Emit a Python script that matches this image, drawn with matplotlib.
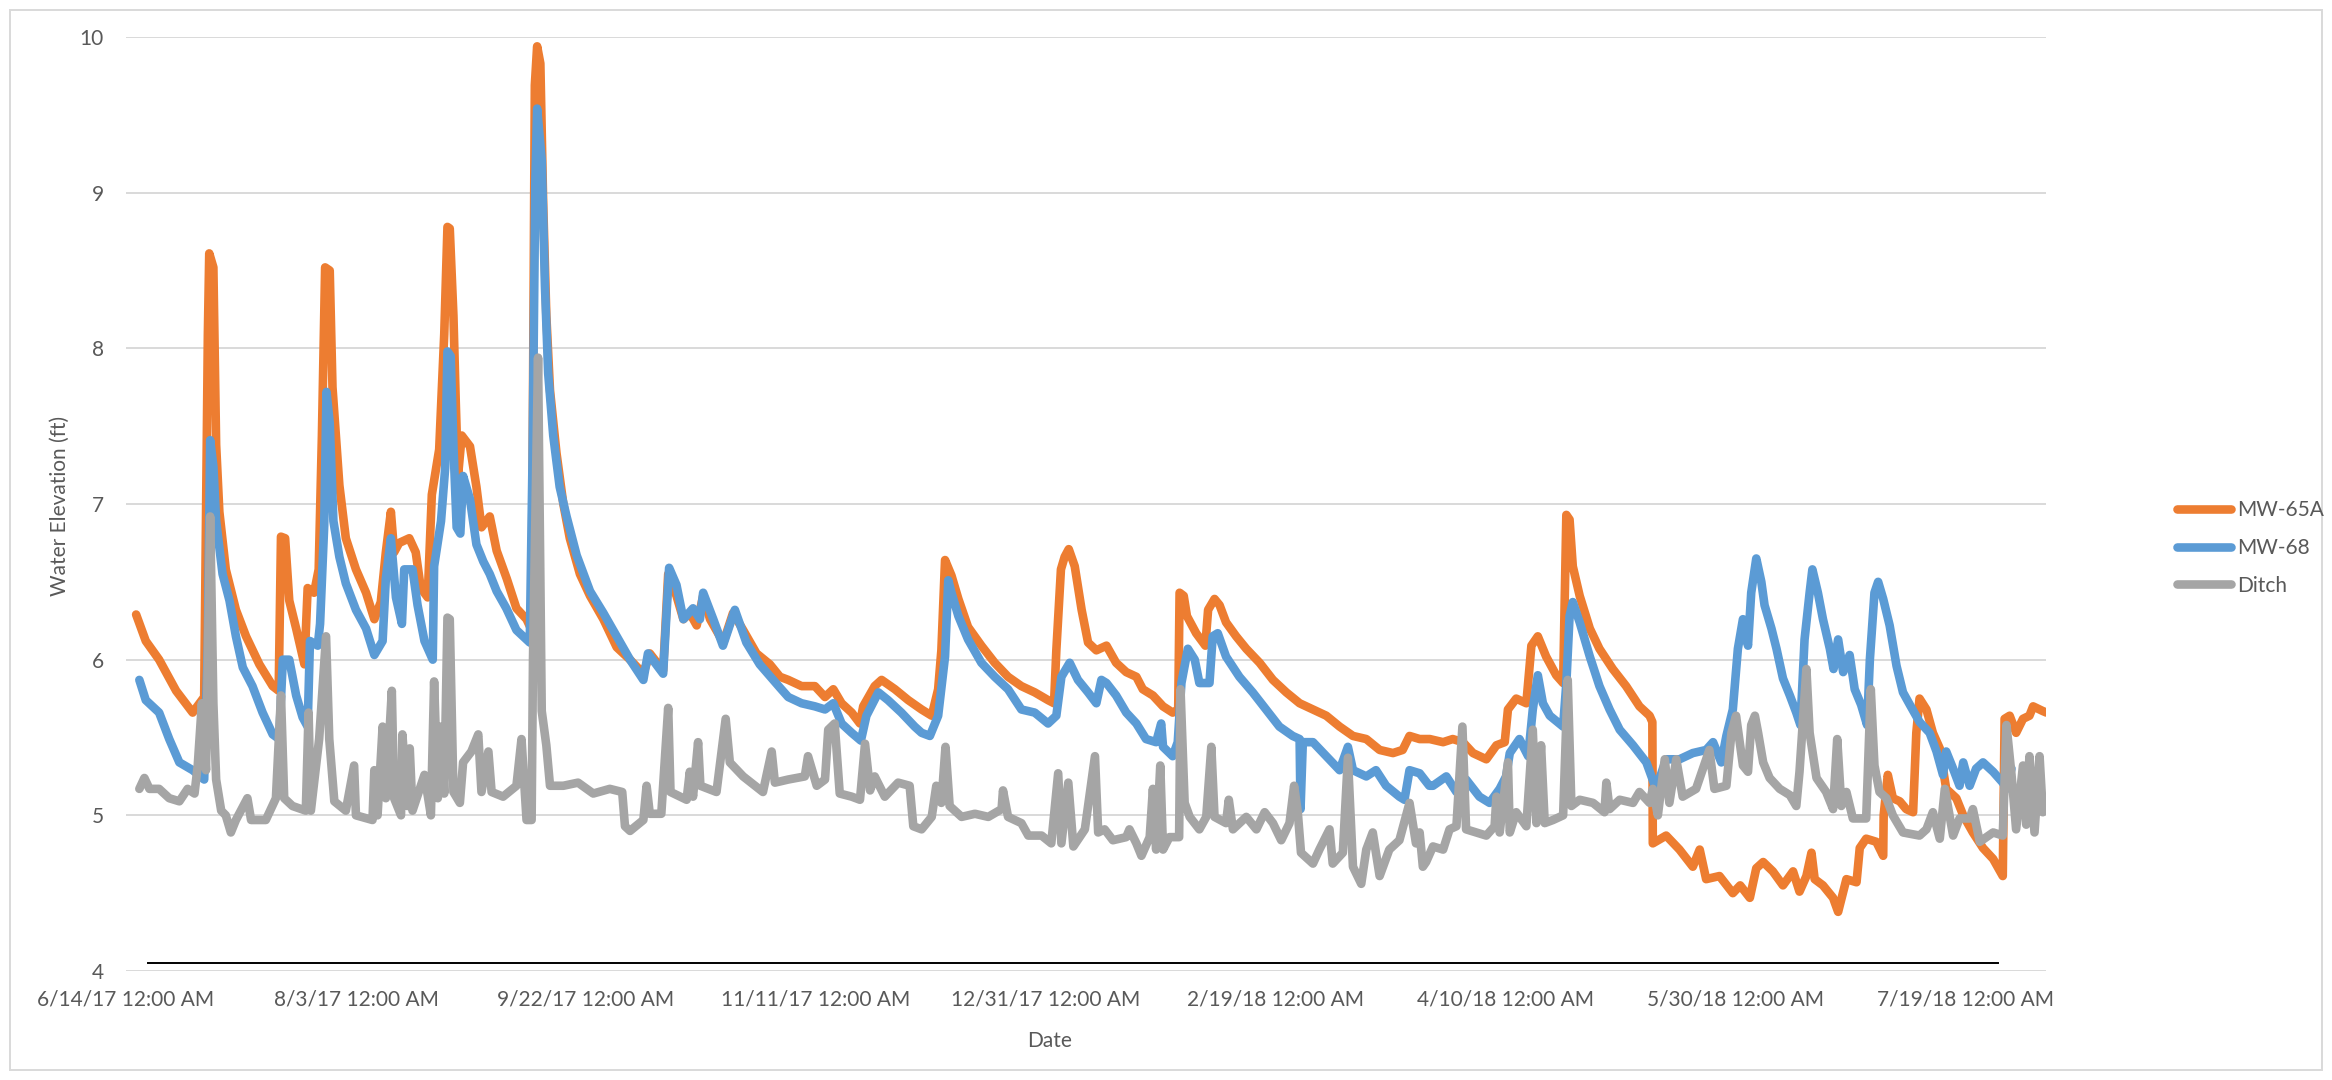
import matplotlib
matplotlib.use("Agg")
import matplotlib.pyplot as plt
import pandas as pd
from matplotlib.patches import Rectangle

plt.rcParams["font.family"] = ["Lato", "DejaVu Sans"]

# ---------------------------------------------------------------------------
# Logger records: days elapsed since 6/14/17 00:00 and water elevation (ft)
# ---------------------------------------------------------------------------
START = pd.Timestamp("2017-06-14")

mw65a_day = [2.2, 4.3, 7.2, 10.9, 14.5, 17.0, 17.8, 18.1, 19.0, 19.6, 20.3, 21.7, 23.9, 26.1,
             29.0, 31.9, 33.2, 33.7, 34.6, 35.5, 37.0, 38.8, 39.5, 40.9, 41.9, 42.6, 43.3, 44.3,
             44.9, 46.4, 47.8, 50.0, 52.2, 54.0, 55.4, 56.5, 57.6, 58.3, 59.4, 61.6, 63.0, 64.1,
             65.6, 66.5, 68.1, 69.2, 69.9, 70.4, 71.2, 71.7, 72.2, 73.0, 74.8, 76.2, 77.3, 79.1,
             80.6, 82.8, 84.9, 87.1, 88.2, 88.5, 88.9, 89.4, 90.1, 90.7, 91.4, 92.2, 93.6, 95.1,
             96.5, 98.7, 100.9, 103.8, 106.7, 109.6, 112.5, 113.9, 116.8, 117.9, 119.7, 121.2,
             122.6, 124.1, 125.5, 127.0, 129.9, 132.0, 134.2, 137.1, 140.0, 142.2, 144.0, 146.9,
             149.8, 152.0, 153.8, 155.6, 157.8, 159.6, 160.3, 162.8, 164.3, 167.2, 170.1, 173.0,
             175.2, 176.6, 177.3, 178.1, 179.5, 181.0, 183.1, 186.0, 188.9, 191.8, 194.7, 197.6,
             200.5, 201.8, 202.3, 203.3, 204.1, 205.0, 206.3, 207.8, 209.2, 211.0, 213.2, 215.3,
             217.5, 219.7, 221.1, 223.3, 225.5, 227.6, 228.8, 229.1, 230.0, 230.7, 232.7, 234.7,
             235.3, 236.7, 237.8, 239.2, 241.4, 243.6, 246.5, 249.4, 252.3, 255.2, 258.1, 261.0,
             263.9, 266.8, 269.7, 272.6, 275.5, 277.6, 279.1, 281.3, 283.5, 286.4, 288.5, 290.7,
             292.9, 295.8, 298.0, 299.8, 300.5, 302.3, 304.5, 305.6, 307.0, 308.8, 311.0, 312.5,
             313.2, 313.9, 314.6, 316.1, 318.3, 320.4, 323.3, 326.2, 329.1, 331.3, 331.9, 332.0,
             334.9, 337.8, 340.7, 342.2, 343.6, 346.5, 349.4, 351.0, 353.1, 354.5, 356.0, 358.1,
             360.3, 362.5, 363.9, 365.4, 366.5, 367.2, 369.0, 371.2, 372.3, 374.1, 376.3, 377.0,
             378.4, 380.6, 382.1, 382.2, 383.1, 384.2, 385.7, 387.1, 388.6, 389.3, 390.0, 391.5,
             392.9, 394.4, 395.8, 398.0, 399.5, 401.6, 403.8, 406.0, 408.1, 408.5, 409.6, 411.0,
             412.5, 413.9, 414.7, 416.8, 417.6]
mw65a_ft = [6.29, 6.12, 6.00, 5.80, 5.66, 5.76, 8.09, 8.61, 8.52, 7.38, 6.95, 6.58, 6.32, 6.15,
            5.97, 5.83, 5.80, 6.79, 6.78, 6.38, 6.20, 5.97, 6.46, 6.43, 6.58, 7.44, 8.52, 8.50,
            7.75, 7.12, 6.78, 6.58, 6.43, 6.26, 6.37, 6.69, 6.95, 6.69, 6.75, 6.78, 6.69, 6.46,
            6.40, 7.06, 7.35, 8.09, 8.78, 8.77, 8.21, 7.66, 7.18, 7.44, 7.37, 7.11, 6.85, 6.92,
            6.70, 6.52, 6.33, 6.26, 6.19, 7.66, 9.69, 9.94, 9.83, 8.95, 8.21, 7.73, 7.33, 7.00,
            6.78, 6.55, 6.41, 6.26, 6.08, 6.00, 5.91, 6.04, 5.93, 6.55, 6.41, 6.26,
            6.30, 6.22, 6.41, 6.26, 6.11, 6.30, 6.19, 6.04, 5.97, 5.89, 5.87, 5.83,
            5.83, 5.76, 5.81, 5.72, 5.66, 5.59, 5.70, 5.83, 5.87, 5.81, 5.74, 5.68,
            5.64, 5.81, 6.06, 6.64, 6.54, 6.39, 6.21, 6.09, 5.98, 5.89, 5.83, 5.79,
            5.74, 5.72, 6.06, 6.58, 6.66, 6.71, 6.60, 6.32, 6.11, 6.06, 6.09, 5.98,
            5.92, 5.89, 5.81, 5.77, 5.70, 5.66, 5.68, 6.43, 6.41, 6.28, 6.17, 6.09,
            6.32, 6.39, 6.35, 6.24, 6.15, 6.07, 5.98, 5.87, 5.79, 5.72, 5.68, 5.64,
            5.57, 5.51, 5.49, 5.42, 5.40, 5.42, 5.51, 5.49, 5.49, 5.47, 5.49, 5.47,
            5.40, 5.36, 5.45, 5.47, 5.68, 5.75, 5.72, 6.09, 6.15, 6.02, 5.90, 5.85,
            6.93, 6.90, 6.60, 6.41, 6.20, 6.07, 5.94, 5.83, 5.70, 5.64, 5.60, 4.82,
            4.87, 4.78, 4.67, 4.78, 4.59, 4.61, 4.50, 4.55, 4.47, 4.66, 4.70, 4.64,
            4.55, 4.64, 4.51, 4.61, 4.76, 4.59, 4.55, 4.47, 4.38, 4.59, 4.57, 4.79,
            4.85, 4.83, 4.74, 5.00, 5.26, 5.11, 5.09, 5.04, 5.02, 5.53, 5.75, 5.68,
            5.53, 5.43, 5.17, 5.11, 5.00, 4.89, 4.79, 4.72, 4.61, 5.62, 5.64, 5.53,
            5.62, 5.64, 5.70, 5.67, 5.66]

mw68_day = [2.9, 4.3, 7.2, 9.4, 11.6, 14.5, 17.0, 17.8, 18.3, 19.0, 19.6, 21.0, 22.5, 23.9,
            25.4, 27.5, 29.7, 31.9, 33.3, 34.1, 35.5, 37.0, 38.4, 39.5, 40.0, 41.7, 42.2, 43.1,
            43.6, 44.3, 45.1, 46.4, 47.8, 50.0, 52.2, 54.0, 55.8, 56.5, 57.6, 58.7, 60.0, 60.5,
            62.3, 63.4, 64.9, 66.7, 67.0, 68.5, 69.4, 69.9, 70.6, 71.2, 71.9, 72.7, 73.3, 74.8,
            76.2, 77.7, 79.1, 80.6, 82.7, 84.9, 87.8, 88.4, 89.0, 89.4, 90.4, 91.1, 91.8, 92.9,
            94.3, 95.8, 98.0, 100.9, 103.8, 106.7, 109.6, 112.5, 113.5, 116.8, 118.1, 119.7,
            121.2, 123.3, 124.8, 125.5, 127.7, 129.8, 132.4, 134.9, 137.8, 142.2, 144.0, 146.9,
            149.8, 152.0, 153.8, 155.6, 157.8, 159.8, 161.0, 163.6, 165.7, 168.6, 171.5, 173.0,
            174.8, 176.6, 178.1, 178.8, 179.5, 181.0, 183.1, 186.0, 188.9, 191.8, 194.7, 197.6,
            200.5, 202.3, 203.4, 205.2, 207.0, 209.2, 211.0, 212.1, 213.2, 215.3, 217.5, 219.7,
            221.8, 224.0, 225.1, 225.5, 227.6, 228.7, 229.5, 230.9, 232.4, 233.4, 235.6, 236.3,
            237.4, 239.2, 242.1, 245.0, 247.9, 250.8, 253.7, 255.2, 255.4, 255.9, 258.1, 261.0,
            263.9, 265.7, 266.8, 269.7, 271.8, 274.0, 276.9, 278.0, 279.1, 281.3, 283.4, 284.2,
            287.1, 289.3, 291.4, 294.3, 296.5, 298.7, 300.1, 300.9, 303.0, 304.9, 305.9, 307.0,
            308.1, 309.6, 312.5, 313.2, 313.9, 314.6, 316.1, 318.3, 320.4, 322.6, 324.8, 327.7,
            330.6, 332.7, 334.9, 337.8, 340.7, 343.6, 345.1, 346.9, 348.0, 349.4, 350.5, 351.6,
            352.7, 353.4, 354.5, 355.6, 356.3, 357.8, 358.9, 360.3, 361.8, 363.2, 364.1, 365.0,
            366.1, 366.7, 367.9, 369.0, 370.5, 371.3, 372.3, 373.4, 374.8, 375.9, 377.3, 378.6,
            379.2, 380.2, 381.0, 382.1, 383.5, 385.0, 386.4, 387.9, 390.0, 392.2, 393.7, 395.1,
            395.8, 397.3, 398.7, 399.5, 400.9, 402.3, 403.8, 406.0, 408.1, 408.9, 410.0]
mw68_ft = [5.87, 5.74, 5.66, 5.49, 5.34, 5.29, 5.23, 6.09, 7.41, 7.24, 6.89, 6.55, 6.38, 6.15,
           5.95, 5.83, 5.66, 5.52, 5.49, 6.00, 6.00, 5.77, 5.63, 5.57, 6.12, 6.09, 6.23, 6.86,
           7.72, 7.52, 6.89, 6.66, 6.49, 6.32, 6.20, 6.03, 6.12, 6.52, 6.78, 6.40, 6.23, 6.58,
           6.58, 6.35, 6.12, 6.00, 6.60, 6.89, 7.23, 7.98, 7.95, 7.37, 6.85, 6.81, 7.18, 7.03,
           6.74, 6.63, 6.55, 6.44, 6.33, 6.19, 6.11, 7.29, 9.06, 9.54, 9.21, 8.40, 7.84, 7.44,
           7.11, 6.92, 6.67, 6.44, 6.30, 6.15, 6.00, 5.87, 6.04, 5.91, 6.59, 6.48,
           6.26, 6.33, 6.26, 6.43, 6.26, 6.09, 6.32, 6.11, 5.97, 5.82, 5.76, 5.72,
           5.70, 5.68, 5.72, 5.59, 5.53, 5.48, 5.64, 5.79, 5.74, 5.66, 5.57, 5.53,
           5.51, 5.64, 6.02, 6.51, 6.43, 6.28, 6.13, 5.98, 5.89, 5.81, 5.68, 5.66,
           5.59, 5.64, 5.89, 5.98, 5.87, 5.79, 5.72, 5.87, 5.85, 5.77, 5.66, 5.59,
           5.49, 5.47, 5.59, 5.44, 5.38, 5.47, 5.85, 6.07, 6.00, 5.85, 5.85, 6.15,
           6.17, 6.02, 5.89, 5.79, 5.68, 5.57, 5.51, 5.49, 5.04, 5.47, 5.47, 5.38,
           5.29, 5.44, 5.29, 5.25, 5.29, 5.19, 5.12, 5.10, 5.29, 5.27, 5.19, 5.19,
           5.25, 5.15, 5.23, 5.12, 5.08, 5.17, 5.25, 5.40, 5.49, 5.38, 5.68, 5.90,
           5.72, 5.64, 5.57, 5.85, 6.28, 6.37, 6.24, 6.02, 5.83, 5.68, 5.55, 5.45,
           5.34, 5.17, 5.36, 5.36, 5.40, 5.42, 5.47, 5.34, 5.51, 5.68, 6.07, 6.26,
           6.09, 6.43, 6.65, 6.50, 6.35, 6.20, 6.07, 5.88, 5.77, 5.66, 5.58, 6.13,
           6.43, 6.58, 6.43, 6.26, 6.07, 5.94, 6.13, 5.92, 6.03, 5.81, 5.71, 5.58,
           6.00, 6.43, 6.50, 6.39, 6.22, 5.96, 5.79, 5.71, 5.60, 5.53, 5.41, 5.26,
           5.41, 5.30, 5.19, 5.34, 5.19, 5.30, 5.34, 5.28, 5.21, 5.17, 5.30]

ditch_day = [2.9, 4.0, 5.1, 7.2, 9.4, 11.6, 13.4, 14.9, 15.6, 16.5, 17.4, 18.3, 19.0, 19.6, 20.7,
             21.7, 22.8, 23.9, 26.4, 27.2, 30.4, 32.6, 33.7, 34.4, 36.2, 39.1, 39.7, 40.2, 42.0,
             43.5, 44.2, 45.3, 47.8, 49.6, 50.0, 53.6, 54.0, 54.7, 55.8, 56.5, 57.8, 58.3, 59.8,
             60.1, 61.2, 61.7, 62.3, 64.9, 66.3, 67.0, 67.8, 68.5, 69.2, 69.9, 70.4, 71.2, 72.6,
             73.3, 75.1, 76.6, 77.3, 78.8, 79.5, 82.0, 84.9, 86.0, 87.1, 88.2, 88.5, 89.6, 90.4,
             91.4, 92.2, 95.1, 98.3, 101.6, 105.2, 107.9, 108.5, 109.6, 112.5, 113.2, 113.9,
             116.4, 116.8, 117.9, 118.4, 121.9, 122.6, 123.3, 124.4, 124.9, 128.4, 130.4, 131.3,
             134.2, 138.5, 140.4, 141.1, 144.0, 147.6, 148.3, 150.2, 152.0, 152.7, 154.1, 155.2,
             157.8, 159.6, 160.7, 161.8, 162.8, 165.0, 167.9, 170.4, 171.2, 173.0, 175.2, 176.2,
             177.3, 178.2, 179.1, 181.7, 184.6, 187.5, 190.4, 190.7, 191.8, 194.7, 196.2, 199.1,
             201.2, 202.7, 203.4, 204.9, 206.0, 208.5, 210.7, 211.4, 212.8, 214.6, 217.5, 218.2,
             219.7, 220.8, 222.6, 223.3, 224.0, 224.9, 225.5, 226.9, 229.0, 229.3, 230.2, 231.3,
             233.4, 234.9, 236.0, 236.7, 239.2, 239.8, 240.7, 243.6, 245.8, 247.6, 249.4, 251.2,
             253.0, 254.0, 254.8, 255.5, 258.1, 259.5, 261.7, 262.4, 264.6, 265.7, 266.8, 268.6,
             269.7, 271.1, 272.6, 274.7, 276.9, 279.1, 280.5, 281.3, 282.0, 282.7, 284.2, 286.4,
             287.8, 289.3, 290.6, 291.4, 293.6, 295.8, 297.6, 298.0, 298.7, 300.5, 300.9, 302.3,
             304.5, 305.9, 306.7, 307.7, 308.5, 310.3, 312.5, 313.5, 314.3, 316.1, 319.0, 321.5,
             321.9, 322.6, 324.8, 327.7, 329.1, 331.3, 332.0, 333.1, 334.6, 335.6, 337.1, 338.5,
             341.4, 344.3, 345.4, 348.0, 349.1, 350.1, 351.6, 352.7, 353.4, 354.2, 354.9, 356.0,
             357.4, 359.6, 361.8, 363.2, 363.9, 365.4, 366.1, 367.6, 369.7, 371.2, 372.1, 373.0,
             374.1, 375.5, 378.4, 379.4, 380.2, 381.3, 382.8, 384.2, 386.4, 390.0, 391.5, 392.9,
             394.4, 395.5, 397.3, 398.7, 400.9, 401.6, 403.1, 406.0, 408.1, 408.9, 410.0, 411.0,
             412.5, 413.2, 413.9, 415.0, 416.1, 416.8, 417.6]
ditch_ft = [5.17, 5.24, 5.17, 5.17, 5.11, 5.09, 5.17, 5.14, 5.32, 5.72, 5.29, 6.92, 5.72, 5.23, 5.03,
            5.00, 4.89, 4.97, 5.11, 4.97, 4.97, 5.11, 5.77, 5.11, 5.06, 5.03, 5.66, 5.03, 5.49,
            6.15, 5.49, 5.09, 5.03, 5.32, 5.00, 4.97, 5.29, 5.00, 5.57, 5.11, 5.80, 5.11, 5.00,
            5.52, 5.06, 5.43, 5.03, 5.26, 5.00, 5.86, 5.11, 5.57, 5.14, 6.27, 6.26, 5.15, 5.08,
            5.34, 5.41, 5.52, 5.15, 5.41, 5.15, 5.12, 5.19, 5.49, 4.97, 4.97, 6.00, 7.94, 5.67,
            5.45, 5.19, 5.19, 5.21, 5.14, 5.17, 5.15, 4.93, 4.90, 4.97, 5.19, 5.01,
            5.01, 5.19, 5.69, 5.15, 5.10, 5.28, 5.12, 5.47, 5.19, 5.15, 5.62, 5.34,
            5.25, 5.15, 5.41, 5.21, 5.23, 5.25, 5.38, 5.19, 5.23, 5.55, 5.59, 5.14,
            5.12, 5.10, 5.46, 5.16, 5.25, 5.12, 5.21, 5.19, 4.93, 4.91, 4.99, 5.19,
            5.08, 5.44, 5.06, 4.99, 5.01, 4.99, 5.04, 5.16, 4.99, 4.95, 4.87, 4.87,
            4.82, 5.27, 4.82, 5.21, 4.80, 4.91, 5.38, 4.89, 4.91, 4.84, 4.86, 4.91,
            4.82, 4.74, 4.86, 5.17, 4.78, 5.32, 4.78, 4.86, 4.86, 5.81, 5.08, 4.99,
            4.91, 4.99, 5.44, 4.99, 4.95, 5.10, 4.91, 4.99, 4.91, 5.02, 4.95, 4.84,
            4.95, 5.19, 5.02, 4.76, 4.69, 4.78, 4.91, 4.69, 4.76, 5.37, 4.67, 4.56,
            4.78, 4.89, 4.61, 4.78, 4.84, 5.08, 4.82, 4.89, 4.67, 4.70, 4.80, 4.78,
            4.91, 4.93, 5.57, 4.91, 4.89, 4.87, 4.93, 5.12, 4.89, 5.34, 4.89, 5.02,
            4.93, 5.55, 4.95, 5.45, 4.95, 4.97, 5.00, 5.87, 5.06, 5.10, 5.08, 5.02,
            5.21, 5.04, 5.10, 5.08, 5.15, 5.08, 5.17, 5.00, 5.36, 5.08, 5.36, 5.12,
            5.17, 5.42, 5.17, 5.19, 5.53, 5.64, 5.32, 5.28, 5.58, 5.64, 5.53, 5.34,
            5.24, 5.17, 5.13, 5.06, 5.28, 5.94, 5.53, 5.24, 5.15, 5.04, 5.49, 5.06,
            5.15, 4.98, 4.98, 5.81, 5.32, 5.15, 5.11, 5.00, 4.89, 4.87, 4.91, 5.02,
            4.85, 5.17, 4.87, 4.98, 4.98, 5.04, 4.83, 4.89, 4.87, 5.58, 5.26, 4.91,
            5.32, 4.94, 5.38, 4.89, 5.38, 5.02, 5.06]

# Reference line along the bottom of the chart
reference_day = [4.8, 407.0]
reference_ft = [4.05, 4.05]

tick_day = [0, 50, 100, 150, 200, 250, 300, 350, 400]
tick_labels = ["6/14/17 12:00 AM", "8/3/17 12:00 AM", "9/22/17 12:00 AM",
               "11/11/17 12:00 AM", "12/31/17 12:00 AM", "2/19/18 12:00 AM",
               "4/10/18 12:00 AM", "5/30/18 12:00 AM", "7/19/18 12:00 AM"]
y_ticks = [4, 5, 6, 7, 8, 9, 10]

series = [("MW-65A", mw65a_day, mw65a_ft, "#ED7D31"),
          ("MW-68", mw68_day, mw68_ft, "#5B9BD5"),
          ("Ditch", ditch_day, ditch_ft, "#A5A5A5")]


def to_dates(days):
    return START + pd.to_timedelta(days, unit="D")


TEXT = "#595959"
GRID = "#D9D9D9"
LW = 6.2

W, H = 2332, 1080
fig = plt.figure(figsize=(W / 100, H / 100), dpi=100)
ax = fig.add_axes([126 / W, 1 - 971 / H, (2046 - 126) / W, (971 - 37) / H])

for name, d, v, c in series:
    ax.plot(to_dates(d), v, color=c, lw=LW, label=name,
            solid_joinstyle="round", solid_capstyle="round")

ax.plot(to_dates(reference_day), reference_ft, color="black", lw=1.4)

ax.set_ylim(4, 10)
ax.set_yticks(y_ticks)
ax.set_xlim(to_dates([0])[0], to_dates([417.5])[0])
ax.set_xticks(to_dates(tick_day))
ax.set_xticklabels(tick_labels)

ax.grid(axis="y", color=GRID, lw=1.4)
ax.set_axisbelow(True)
for s in ax.spines.values():
    s.set_visible(False)
ax.tick_params(axis="both", length=0, labelsize=15, labelcolor=TEXT)
ax.tick_params(axis="x", pad=13)
ax.tick_params(axis="y", pad=16)

fig.text(60 / W, 1 - 506 / H, "Water Elevation (ft)", rotation=90, ha="center",
         va="center", fontsize=15, color=TEXT)
fig.text(1050 / W, 1 - 1041 / H, "Date", ha="center", va="center",
         fontsize=15, color=TEXT)

leg = fig.legend(loc="center left", bbox_to_anchor=(2158 / W, 1 - 548 / H),
                 frameon=False, fontsize=15, handlelength=2.6, handletextpad=0.3,
                 labelspacing=0.85, labelcolor=TEXT)
for h in leg.get_lines():
    h.set_linewidth(LW)
    h.set_solid_capstyle("round")

fig.patches.append(Rectangle((10 / W, 10 / H), (W - 20) / W, (H - 20) / H,
                             transform=fig.transFigure, fill=False,
                             edgecolor=GRID, lw=1.4))

fig.savefig("out.png", dpi=100)
